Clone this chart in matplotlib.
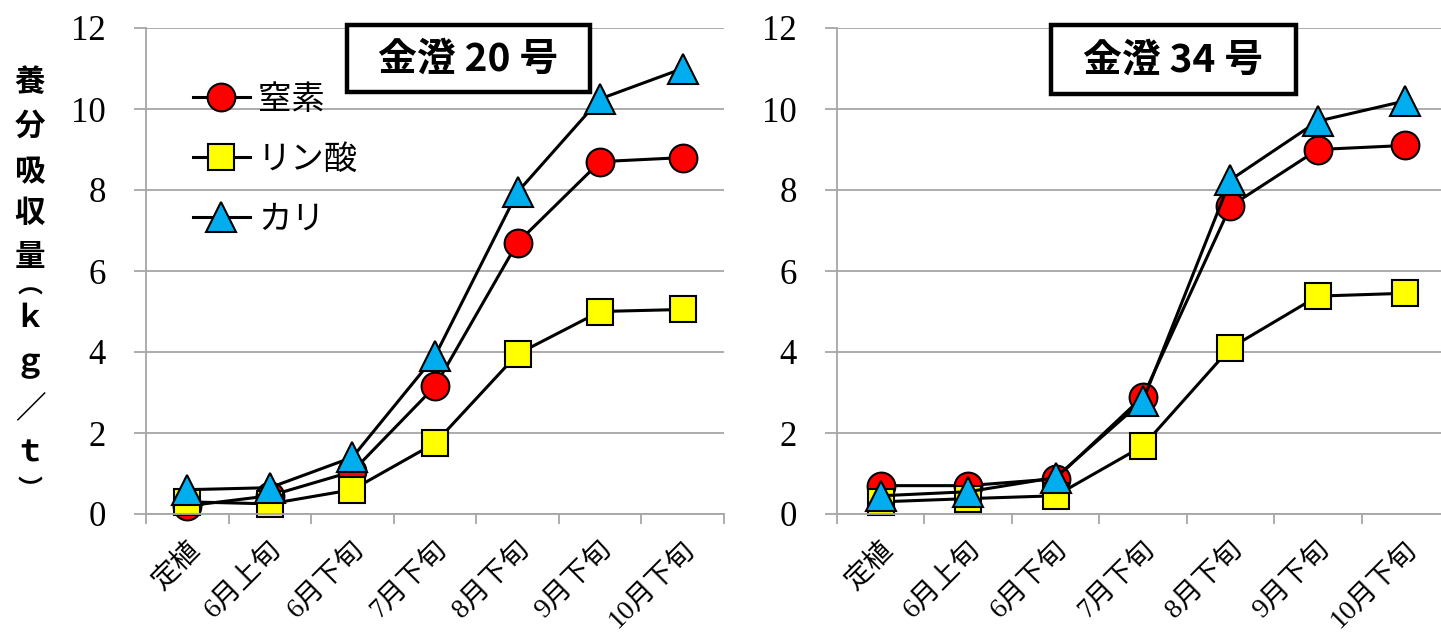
"""
nutrient uptake of two varieties over the season (two panels)
"""

import matplotlib.pyplot as plt
from matplotlib.patches import Rectangle

plt.rcParams['font.family'] = ['Liberation Serif', 'Noto Sans CJK JP', 'DejaVu Sans']

categories = ['定植', '6月上旬', '6月下旬', '7月下旬', '8月下旬', '9月下旬', '10月下旬']
y_ticks = [0, 2, 4, 6, 8, 10, 12]

# 金澄20号
n_20 = [0.2, 0.45, 1.05, 3.15, 6.7, 8.7, 8.8]
p_20 = [0.3, 0.25, 0.6, 1.75, 3.95, 5.0, 5.05]
k_20 = [0.6, 0.65, 1.4, 3.9, 7.95, 10.25, 11.0]

# 金澄34号
n_34 = [0.7, 0.7, 0.87, 2.9, 7.6, 9.0, 9.1]
p_34 = [0.3, 0.38, 0.45, 1.68, 4.1, 5.38, 5.45]
k_34 = [0.45, 0.55, 0.9, 2.8, 8.25, 9.7, 10.2]

series_names = ['窒素', 'リン酸', 'カリ']
panel_titles = ['金澄 20 号', '金澄 34 号']

W, H = 1441, 637
fig = plt.figure(figsize=(W / 100, H / 100), dpi=100)

GRID = '#A6A6A6'
styles = [
    dict(marker='o', markerfacecolor='#FF0000', markersize=20),
    dict(marker='s', markerfacecolor='#FFFF00', markersize=19),
    dict(marker='^', markerfacecolor='#00AEEF', markersize=21),
]


def px_axes(x0, x1, ytop, ybot):
    return fig.add_axes([x0 / W, (H - ybot) / H, (x1 - x0) / W, (ybot - ytop) / H])


def setup(ax):
    x = range(len(categories))
    ax.set_xlim(-0.5, len(categories) - 0.5)
    ax.set_ylim(0, 12)
    ax.set_yticks(y_ticks)
    ax.set_yticklabels([str(v) for v in y_ticks], fontsize=25)
    ax.set_xticks(list(x))
    ax.set_xticklabels(categories, fontsize=20, rotation=45, ha='right',
                       rotation_mode='anchor')
    ax.set_xticks([i - 0.5 for i in range(len(categories) + 1)], minor=True)
    ax.tick_params(axis='x', which='major', length=0, pad=17)
    ax.tick_params(axis='x', which='minor', length=7, width=1.3, color=GRID)
    ax.tick_params(axis='y', length=9, width=1.3, color=GRID, pad=20)
    ax.grid(axis='y', color=GRID, linewidth=1.3)
    for s in ['top', 'right']:
        ax.spines[s].set_visible(False)
    for s in ['left', 'bottom']:
        ax.spines[s].set_color(GRID)
        ax.spines[s].set_linewidth(1.3)
    ax.set_axisbelow(True)
    return list(x)


def draw(ax, data):
    x = setup(ax)
    lines = []
    for vals, st, name in zip(data, styles, series_names):
        ln, = ax.plot(x, vals, color='black', linewidth=2.2,
                      markeredgecolor='black', markeredgewidth=1.5,
                      label=name, clip_on=False, **st)
        lines.append(ln)
    return lines


def title_box(ax, text, x0, x1, y0, y1, cx, cy):
    ax.add_patch(Rectangle((x0, y0), x1 - x0, y1 - y0, transform=ax.transAxes,
                           facecolor='white', edgecolor='black', linewidth=3.2,
                           clip_on=False, zorder=5))
    ax.text(cx, cy, text, transform=ax.transAxes, ha='center', va='center',
            fontsize=28, fontweight='bold', family=['Noto Sans CJK JP'], zorder=6)


ax1 = px_axes(146, 724, 28, 514)
lines = draw(ax1, [n_20, p_20, k_20])
title_box(ax1, panel_titles[0], 0.348, 0.768, 0.868, 1.006, 0.558, 0.936)

ax2 = px_axes(837, 1449, 28, 514)
draw(ax2, [n_34, p_34, k_34])
title_box(ax2, panel_titles[1], 0.350, 0.750, 0.864, 1.006, 0.549, 0.934)

# legend on the left panel
ax1.legend(handles=lines, loc='upper left', bbox_to_anchor=(193 / W, (H - 82) / H),
           bbox_transform=fig.transFigure, frameon=False,
           handlelength=1.7, handletextpad=0.25, labelspacing=0.75,
           borderpad=0, borderaxespad=0,
           prop={'family': ['Noto Sans CJK JP'], 'size': 24})

# vertical y label, one character per line
ylabel_chars = ['養', '分', '吸', '収', '量', '︵', 'ｋ', 'ｇ', '／', 'ｔ', '︶']
ylabel_y = [82, 126, 172, 213, 257, 287, 318, 363, 408, 453, 490]
ylabel_size = [22, 22, 22, 22, 22, 18, 22, 22, 22, 22, 18]
for ch, yy, fs in zip(ylabel_chars, ylabel_y, ylabel_size):
    fig.text(30 / W, (H - yy) / H, ch, ha='center', va='center', fontsize=fs,
             fontweight='bold', family=['Noto Sans CJK JP'])

fig.savefig('out.png', dpi=100)
